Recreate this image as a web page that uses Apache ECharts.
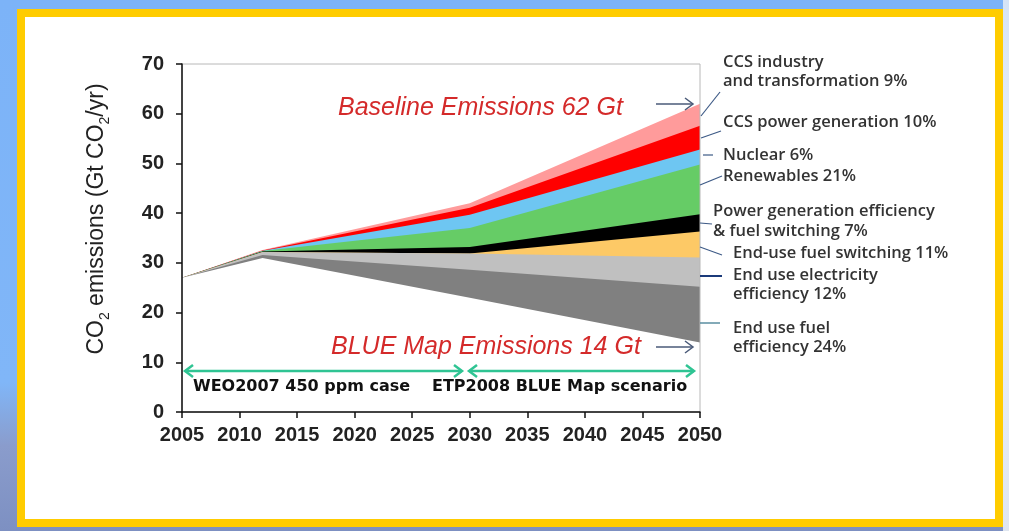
<!DOCTYPE html>
<html><head><meta charset="utf-8">
<script src="https://cdn.jsdelivr.net/npm/echarts@6/dist/echarts.min.js"></script>
<style>
html,body{margin:0;padding:0;}
#wrap{position:relative;width:1009px;height:531px;overflow:hidden;
 background:linear-gradient(to bottom,#7cb3f8 0%,#80b6f8 72%,#8a9ccc 84%,#7d90c2 100%);}
#rstrip{position:absolute;left:1003px;top:0;width:6px;height:531px;background:linear-gradient(to bottom,#d6e4f6,#eef2f8 40%,#dfe6f0);}
#frame{position:absolute;left:17px;top:9px;width:970px;height:502px;border:8px solid #ffcc00;background:#fff;}
#chart{position:absolute;left:0;top:0;width:1009px;height:531px;}
</style></head>
<body>
<div id="wrap"><div id="rstrip"></div><div id="frame"></div><div id="chart"></div></div>
<script>
// ---- data ----
const years = [2005, 2012, 2030, 2050];
const blueMap = [27.0, 31.0, 23.0, 14.0];        // BLUE Map emissions (bottom of wedges)
const fuelEff = [0, 0.6, 5.6, 11.2];             // End use fuel efficiency 24%
const elecEff = [0, 0.6, 3.3, 5.9];              // End use electricity efficiency 12%
const fuelSwitch = [0, 0, 0, 5.2];               // End-use fuel switching 11%
const powerGen = [0, 0.1, 1.3, 3.5];             // Power generation efficiency & fuel switching 7%
const renewables = [0, 0.1, 3.8, 10.0];          // Renewables 21%
const nuclear = [0, 0.05, 2.7, 3.0];             // Nuclear 6%
const ccsPower = [0, 0.05, 1.4, 4.8];            // CCS power generation 10%
const ccsIndustry = [0, 0.1, 0.9, 4.4];          // CCS industry and transformation 9%
const wedgeNames = ['End use fuel efficiency', 'End use electricity efficiency', 'End-use fuel switching',
  'Power generation efficiency & fuel switching', 'Renewables', 'Nuclear', 'CCS power generation', 'CCS industry and transformation'];
const labelLines = [['CCS industry', 'and transformation 9%'], ['CCS power generation 10%'], ['Nuclear 6%'], ['Renewables 21%'],
  ['Power generation efficiency', '& fuel switching 7%'], ['End-use fuel switching 11%'], ['End use electricity', 'efficiency 12%'], ['End use fuel', 'efficiency 24%']];
const yTicks = [0, 10, 20, 30, 40, 50, 60, 70];
const xTicks = [2005, 2010, 2015, 2020, 2025, 2030, 2035, 2040, 2045, 2050];

// ---- styles ----
const wedgeColors = ['#808080', '#c0c0c0', '#fdc966', '#000000', '#66cc66', '#6ec6f2', '#ff0000', '#ff9b9b'];

const wedges = [fuelEff, elecEff, fuelSwitch, powerGen, renewables, nuclear, ccsPower, ccsIndustry];
// cumulative boundaries
const cum = [];
let run = blueMap.slice();
wedges.forEach(w => { run = run.map((v, i) => v + w[i]); cum.push(run.slice()); });

const series = [];
for (let k = wedges.length - 1; k >= 0; k--) {
  series.push({
    name: wedgeNames[k], type: 'line', symbol: 'none', silent: true,
    data: years.map((y, i) => [y, +cum[k][i].toFixed(3)]),
    lineStyle: { width: 0 }, areaStyle: { color: wedgeColors[k], opacity: 1 }
  });
}
series.push({
  name: 'BLUE Map', type: 'line', symbol: 'none', silent: true,
  data: years.map((y, i) => [y, blueMap[i]]),
  lineStyle: { width: 0 }, areaStyle: { color: '#ffffff', opacity: 1 }
});

const chart = echarts.init(document.getElementById('chart'), null, { renderer: 'canvas' });

const lblFont = { fontFamily: 'Open Sans', fontWeight: 600, fontSize: 16.5, fill: '#333' };
function txt(t, x, y, extra) {
  return Object.assign({ type: 'text', x: x, y: y, z: 100,
    style: Object.assign({ text: t, verticalAlign: 'middle' }, lblFont) }, extra || {});
}
function ln(x1, y1, x2, y2, color, w) {
  return { type: 'line', z: 100, shape: { x1, y1, x2, y2 }, style: { stroke: color, lineWidth: w || 1.2 } };
}
function head(x, y, dir, color, w, s) {
  s = s || 7;
  return { type: 'polyline', z: 100, shape: { points: [[x - dir * s, y - s * 0.75], [x, y], [x - dir * s, y + s * 0.75]] },
    style: { stroke: color, lineWidth: w, fill: null } };
}
const leader = '#3d5a86';
const green = '#2fc493';
const graphics = [
  // axis name
  { type: 'text', x: 97, y: 219, rotation: Math.PI / 2, z: 100,
    style: { text: '{a|CO}{s|2}{a| emissions (Gt CO}{s|2}{a|/yr)}', align: 'center', verticalAlign: 'middle',
      rich: { a: { fontFamily: 'Liberation Sans', fontSize: 23, fill: '#222', lineHeight: 30, verticalAlign: 'middle' },
              s: { fontFamily: 'Liberation Sans', fontSize: 14, fill: '#222', lineHeight: 15, verticalAlign: 'bottom' } } } },
  // right labels
  txt(labelLines[0][0], 723, 62), txt(labelLines[0][1], 723, 81),
  txt(labelLines[1][0], 723, 122),
  txt(labelLines[2][0], 723, 155),
  txt(labelLines[3][0], 723, 176),
  txt(labelLines[4][0], 713, 211), txt(labelLines[4][1], 713, 231),
  txt(labelLines[5][0], 733, 253),
  txt(labelLines[6][0], 733, 275), txt(labelLines[6][1], 733, 294),
  txt(labelLines[7][0], 733, 328), txt(labelLines[7][1], 733, 347),
  // leader lines
  ln(701, 116, 720, 92, leader), ln(701, 138, 721, 131, leader), ln(703, 155, 713, 155, leader),
  ln(700, 185, 722, 176, leader), ln(700, 223, 712, 224, leader), ln(700, 247, 722, 255, leader),
  ln(700, 276, 722, 276, '#1b3a7a', 2), ln(700, 323, 720, 323, '#5a8ea0', 1.5),
  // baseline / blue map annotations
  { type: 'text', x: 338, y: 108, z: 100, style: { text: 'Baseline Emissions 62 Gt', fontFamily: 'Liberation Sans', fontStyle: 'italic', fontSize: 25, fill: '#d42a2a', verticalAlign: 'middle' } },
  { type: 'text', x: 331, y: 347, z: 100, style: { text: 'BLUE Map Emissions 14 Gt', fontFamily: 'Liberation Sans', fontStyle: 'italic', fontSize: 25, fill: '#d42a2a', verticalAlign: 'middle' } },
  ln(656, 104, 693, 104, '#4a5a78', 1.5), head(693, 104, 1, '#4a5a78', 1.5, 8),
  ln(656, 347, 693, 347, '#4a5a78', 1.5), head(693, 347, 1, '#4a5a78', 1.5, 8),
  // period arrows
  ln(185, 371, 462, 371, green, 2.5), head(185, 371, -1, green, 2.5, 8), head(462, 371, 1, green, 2.5, 8),
  ln(469, 371, 694, 371, green, 2.5), head(469, 371, -1, green, 2.5, 8), head(694, 371, 1, green, 2.5, 8),
  { type: 'text', x: 193, y: 387, z: 100, style: { text: 'WEO2007 450 ppm case', fontFamily: 'DejaVu Sans', fontWeight: 'bold', fontSize: 16, fill: '#111', verticalAlign: 'middle' } },
  { type: 'text', x: 432, y: 387, z: 100, style: { text: 'ETP2008 BLUE Map scenario', fontFamily: 'DejaVu Sans', fontWeight: 'bold', fontSize: 16, fill: '#111', verticalAlign: 'middle' } }
];

chart.setOption({
  animation: false,
  backgroundColor: 'transparent',
  grid: { left: 182, top: 64, width: 518, height: 348, show: true, borderColor: '#b8b8b8', borderWidth: 1, backgroundColor: 'transparent', z: 10 },
  xAxis: {
    type: 'value', min: xTicks[0], max: xTicks[xTicks.length - 1], interval: 5, z: 11,
    axisLine: { lineStyle: { color: '#111', width: 1.5 } },
    axisTick: { inside: false, length: 6, lineStyle: { color: '#111', width: 1.5 } },
    splitLine: { show: false },
    axisLabel: { formatter: v => String(v), fontFamily: 'Liberation Sans', fontWeight: 'bold', fontSize: 20, color: '#222', margin: 13 }
  },
  yAxis: {
    type: 'value', min: yTicks[0], max: yTicks[yTicks.length - 1], interval: 10, z: 11,
    axisLine: { show: true, lineStyle: { color: '#111', width: 1.5 } },
    axisTick: { show: true, inside: false, length: 6, lineStyle: { color: '#111', width: 1.5 } },
    splitLine: { show: false },
    axisLabel: { fontFamily: 'Liberation Sans', fontWeight: 'bold', fontSize: 20, color: '#222', margin: 18 }
  },
  series: series,
  graphic: graphics
});
</script>
</body></html>
